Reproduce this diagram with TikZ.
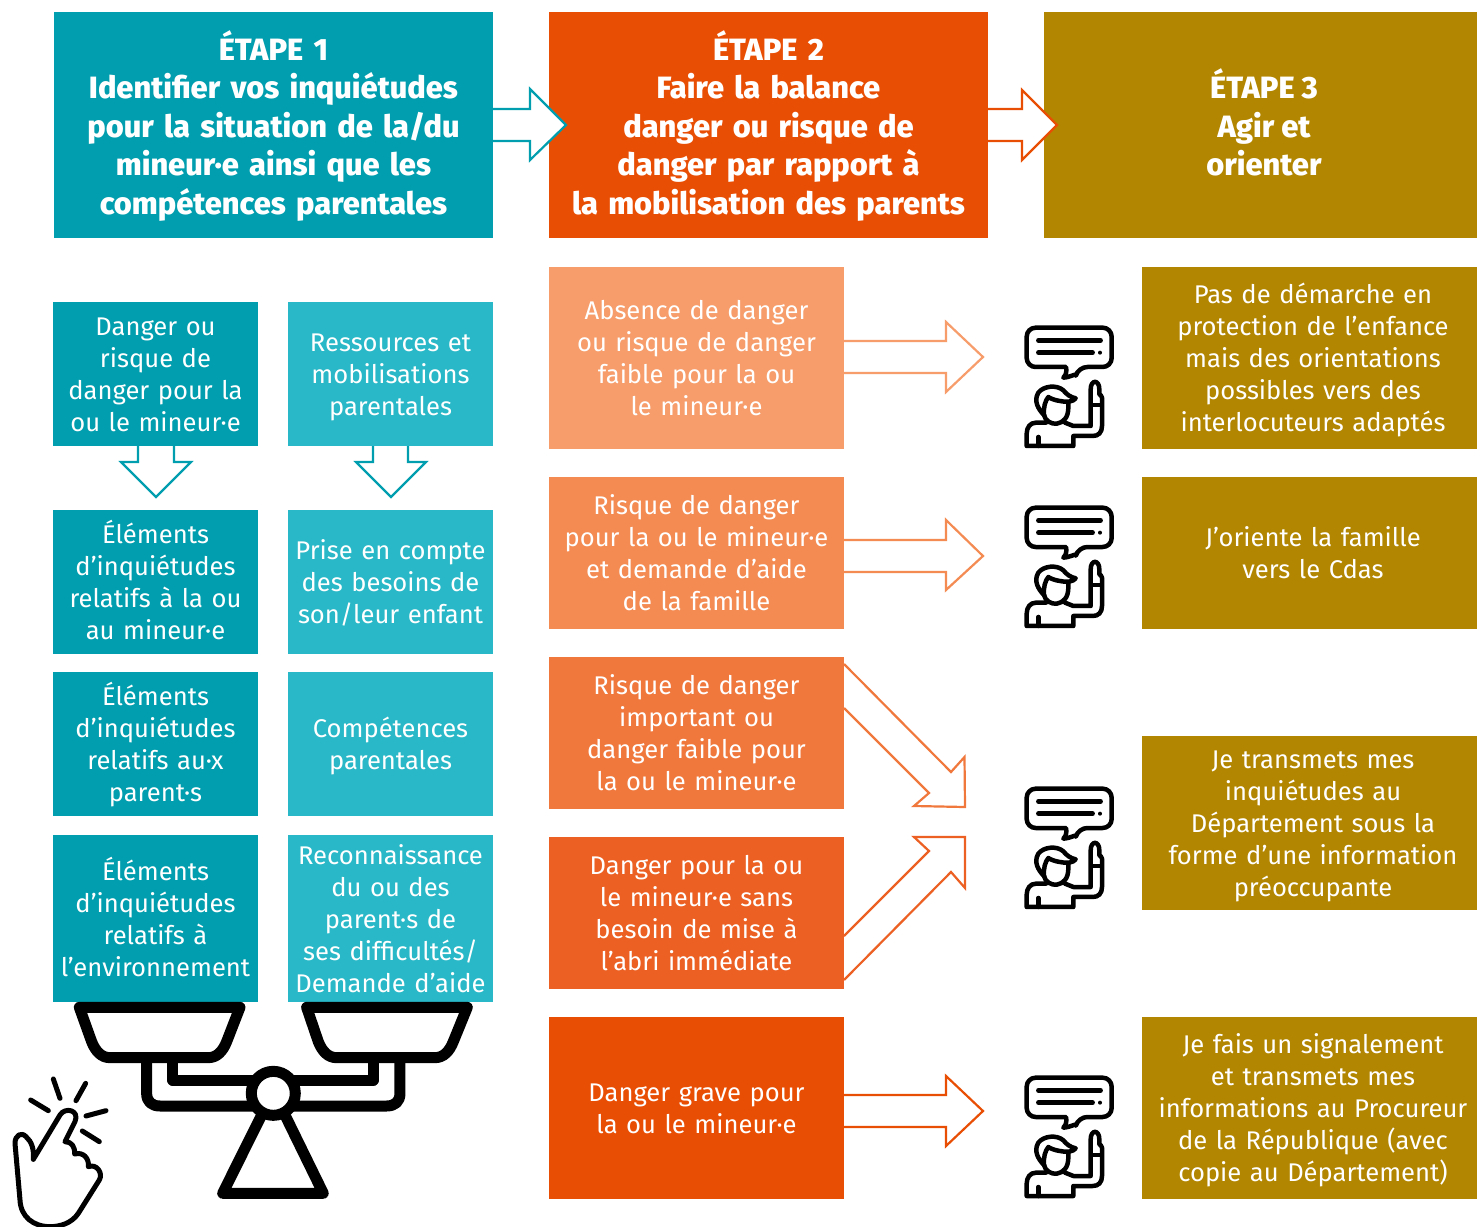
\documentclass[tikz,border=0pt]{standalone}
\usepackage{fontspec}
\setmainfont{Fira Sans}
\newfontfamily\headfont{Fira Sans}[UprightFont=* ExtraBold,BoldFont=* ExtraBold]
\definecolor{teal1}{HTML}{009EAE}
\definecolor{teal2}{HTML}{29B8C7}
\definecolor{org0}{HTML}{E94E05}
\definecolor{org1}{HTML}{F69D6B}
\definecolor{org2}{HTML}{F38B53}
\definecolor{org3}{HTML}{F0783D}
\definecolor{org4}{HTML}{EC6023}
\definecolor{gold}{HTML}{B28600}
\newcommand{\bx}[7]{%
  \node[fill=#6,minimum width={(#4-#2)*1pt},minimum height={(#5-#3)*1pt},inner sep=0pt,outer sep=0pt] (#1) at ({(#2+#4)/2},{(#3+#5)/2}) {};
  \node[body,text width={(#4-#2)*1pt},align=center,inner sep=0pt] (#1t) at (#1.center) {\rule{0pt}{26pt}#7\rule[-6.5pt]{0pt}{6.5pt}};}
\newcommand{\rx}[7]{%
  \node[fill=#6,minimum width={(#4-#2)*1pt},minimum height={(#5-#3)*1pt},inner sep=0pt,outer sep=0pt] (#1) at ({(#2+#4)/2},{(#3+#5)/2}) {};
  \node[body,text width={(#4-#2)*1pt},align=center,inner sep=0pt,xshift=3.5pt] (#1t) at (#1.center) {\rule{0pt}{26pt}#7\rule[-6.5pt]{0pt}{6.5pt}};}
\newcommand{\hx}[7]{%
  \node[fill=#6,minimum width={(#4-#2)*1pt},minimum height={(#5-#3)*1pt},inner sep=0pt,outer sep=0pt] (#1) at ({(#2+#4)/2},{(#3+#5)/2}) {};
  \node[head,text width={(#4-#2)*1pt},align=center,inner sep=0pt,yshift=-1pt] (#1t) at (#1.center) {\rule{0pt}{24pt}#7\rule[-7.5pt]{0pt}{7.5pt}};}
\tikzset{
  x=1pt,y=-1pt,
  body/.style={text=white,font=\fontsize{25.6}{32}\selectfont},
  head/.style={text=white,font=\headfont\fontsize{30.8}{38.5}\selectfont},
  arr/.style={line width=2.2pt,fill=white,miter limit=10},
  thin icon/.style={line width=4.5pt,line cap=round,line join=round,black},
  person/.pic={
    \begin{scope}[x=0.3333pt,y=-0.3333pt]
    \draw[thin icon,rounded corners=9pt] (50,50) -- (305,50) -- (305,168) -- (205,168) [sharp corners] .. controls (200,185) and (185,198) .. (160,200) .. controls (170,190) and (170,180) .. (168,168) [rounded corners=9pt] -- (50,168) -- cycle;
    \draw[thin icon] (85,88) -- (272,88) (85,125) -- (248,125);
    \fill (270,125) circle (6);
    \draw[thin icon] (102,312) .. controls (85,295) and (70,270) .. (85,245) .. controls (100,225) and (140,220) .. (160,238) .. controls (170,250) and (180,258) .. (197,262) .. controls (190,272) and (170,275) .. (150,270) .. controls (135,268) and (120,262) .. (115,258) .. controls (105,270) and (100,290) .. (102,312);
    \draw[thin icon] (102,312) .. controls (105,330) and (125,340) .. (140,338) .. controls (160,335) and (175,320) .. (175,290) -- (175,275);
    \draw[thin icon] (108,335) -- (78,335) .. controls (60,335) and (50,350) .. (50,368) -- (50,405) -- (190,405) -- (190,375) -- (248,375) .. controls (265,375) and (276,365) .. (276,345) -- (276,260) .. controls (276,255) and (270,250) .. (268,250) -- (268,235) .. controls (268,205) and (242,205) .. (242,235) -- (242,345) -- (190,345) -- (165,335);
    \draw[thin icon] (244,282) -- (274,282) (85,378) -- (85,405);
    \end{scope}
  }
}
\begin{document}
\begin{tikzpicture}
\useasboundingbox (0,0) rectangle (1477,1226);
% headers
\hx{h1}{54}{12}{493}{238}{teal1}{ÉTAPE 1\\Identifier vos inquiétudes\\pour la situation de la/du\\mineur·e ainsi que les\\compétences parentales}
\hx{h2}{549}{12}{988}{238}{org0}{ÉTAPE 2\\Faire la balance\\danger ou risque de\\danger par rapport à\\la mobilisation des parents}
\node[fill=gold,minimum width=433pt,minimum height=226pt,inner sep=0pt,outer sep=0pt] (h3) at (1260.5,125) {};
\node[head,align=center,inner sep=0pt,yshift=-1pt] (h3t) at (1264,125) {\rule{0pt}{24pt}ÉTAPE 3\\Agir et\\orienter\rule[-7.5pt]{0pt}{7.5pt}};
% header arrows
\draw[arr,draw=teal1] (h1.east |- 0,109) -- (530,109) -- (530,89) -- (566,125) -- (530,160) -- (530,141) -- (h1.east |- 0,141);
\draw[arr,draw=org0] (h2.east |- 0,109) -- (1022,109) -- (1022,90) -- (1057,125) -- (1022,160) -- (1022,141) -- (h2.east |- 0,141);
% left columns
\bx{a1}{53}{302}{258}{446}{teal1}{Danger ou\\risque de\\danger pour la\\ou le mineur·e}
\bx{a2}{53}{510}{258}{654}{teal1}{Éléments\\d’inquiétudes\\relatifs à la ou\\au mineur·e}
\bx{a3}{53}{672}{258}{816}{teal1}{Éléments\\d’inquiétudes\\relatifs au·x\\parent·s}
\bx{a4}{53}{835}{258}{1002}{teal1}{Éléments\\d’inquiétudes\\relatifs à\\l’environnement}
\bx{b1}{288}{302}{493}{446}{teal2}{Ressources et\\mobilisations\\parentales}
\bx{b2}{288}{510}{493}{654}{teal2}{Prise en compte\\des besoins de\\son/leur enfant}
\bx{b3}{288}{672}{493}{816}{teal2}{Compétences\\parentales}
\bx{b4}{288}{835}{493}{1002}{teal2}{Reconnaissance\\du ou des\\parent·s de\\ses difficultés/\\Demande d’aide}
% down arrows
\draw[arr,draw=teal1] (a1.south -| 138,0) -- (138,462) -- (121,462) -- (156,497) -- (191,462) -- (174,462) -- (a1.south -| 174,0);
\draw[arr,draw=teal1] (b1.south -| 373,0) -- (373,462) -- (356,462) -- (391,497) -- (426,462) -- (408,462) -- (b1.south -| 408,0);
% middle
\bx{m1}{549}{267}{844}{449}{org1}{Absence de danger\\ou risque de danger\\faible pour la ou\\le mineur·e}
\bx{m2}{549}{477}{844}{629}{org2}{Risque de danger\\pour la ou le mineur·e\\et demande d’aide\\de la famille}
\bx{m3}{549}{657}{844}{809}{org3}{Risque de danger\\important ou\\danger faible pour\\la ou le mineur·e}
\bx{m4}{549}{837}{844}{989}{org4}{Danger pour la ou\\le mineur·e sans\\besoin de mise à\\l’abri immédiate}
\bx{m5}{549}{1017}{844}{1199}{org0}{Danger grave pour\\la ou le mineur·e}
% right
\rx{r1}{1142}{267}{1477}{449}{gold}{Pas de démarche en\\protection de l’enfance\\mais des orientations\\possibles vers des\\interlocuteurs adaptés}
\rx{r2}{1142}{477}{1477}{629}{gold}{J’oriente la famille\\vers le Cdas}
\rx{r3}{1142}{736}{1477}{910}{gold}{Je transmets mes\\inquiétudes au\\Département sous la\\forme d’une information\\préoccupante}
\rx{r4}{1142}{1017}{1477}{1199}{gold}{Je fais un signalement\\et transmets mes\\informations au Procureur\\de la République (avec\\copie au Département)}
% row arrows
\draw[arr,draw=org1] (m1.east |- 0,341) -- (946,341) -- (946,322) -- (983,357) -- (946,392) -- (946,373) -- (m1.east |- 0,373);
\draw[arr,draw=org2] (m2.east |- 0,540) -- (946,540) -- (946,520) -- (983,556) -- (946,590) -- (946,572) -- (m2.east |- 0,572);
\draw[arr,draw=org3] (m3.east |- 0,664) -- (951,772) -- (964.5,757) -- (965,807) -- (914,806) -- (929,793) -- (m3.east |- 0,708);
\draw[arr,draw=org4] (m4.east |- 0,936) -- (929,851) -- (914,837) -- (965,837) -- (965,888) -- (951,872) -- (m4.east |- 0,980);
\draw[arr,draw=org0] (m5.east |- 0,1095) -- (946,1095) -- (946,1076) -- (983,1111) -- (946,1146) -- (946,1127) -- (m5.east |- 0,1127);
% person icons
\pic at (1010,311) {person};
\pic at (1010,491) {person};
\pic at (1010,772) {person};
\pic at (1010,1061) {person};
% scale
\begin{scope}[shift={(0,1000)},x=0.3333pt,y=-0.3333pt,every path/.style={line width=11pt,line cap=round,line join=round,black}]
\draw (238,22) -- (720,22) -- (680,125) .. controls (668,155) and (650,173) .. (625,173) -- (330,173) .. controls (305,173) and (287,155) .. (275,125) -- cycle;
\draw (920,22) -- (1402,22) -- (1360,125) .. controls (1348,155) and (1330,173) .. (1305,173) -- (1010,173) .. controls (985,173) and (967,155) .. (955,125) -- cycle;
\draw (440,173) -- (440,280) .. controls (440,305) and (455,318) .. (480,318) -- (1160,318) .. controls (1185,318) and (1200,305) .. (1200,280) -- (1200,173);
\draw (518,173) -- (518,240) -- (1120,240) -- (1120,173);
\draw (668,580) -- (785,345) (970,580) -- (855,345) (668,580) -- (970,580);
\draw[fill=white] (820,280) circle (66);
\end{scope}
% hand
\begin{scope}[shift={(0,1000)},x=0.3333pt,y=-0.3333pt,every path/.style={line width=5pt,line cap=round,line join=round,black}]
\draw (100,478) -- (180,345) .. controls (195,320) and (240,330) .. (225,365) -- (195,425) .. controls (215,425) and (225,440) .. (224,462) .. controls (250,455) and (268,475) .. (265,500) .. controls (290,490) and (310,520) .. (298,540) -- (235,640) .. controls (215,670) and (180,680) .. (150,680) .. controls (100,680) and (62,650) .. (60,600) -- (45,430) .. controls (45,405) and (65,395) .. (78,410) .. controls (95,425) and (102,445) .. (100,478);
\draw (160,237) -- (180,295) (257,250) -- (228,302) (92,300) -- (145,332) (258,348) -- (318,332) (247,393) -- (298,425);
\end{scope}
\end{tikzpicture}
\end{document}
